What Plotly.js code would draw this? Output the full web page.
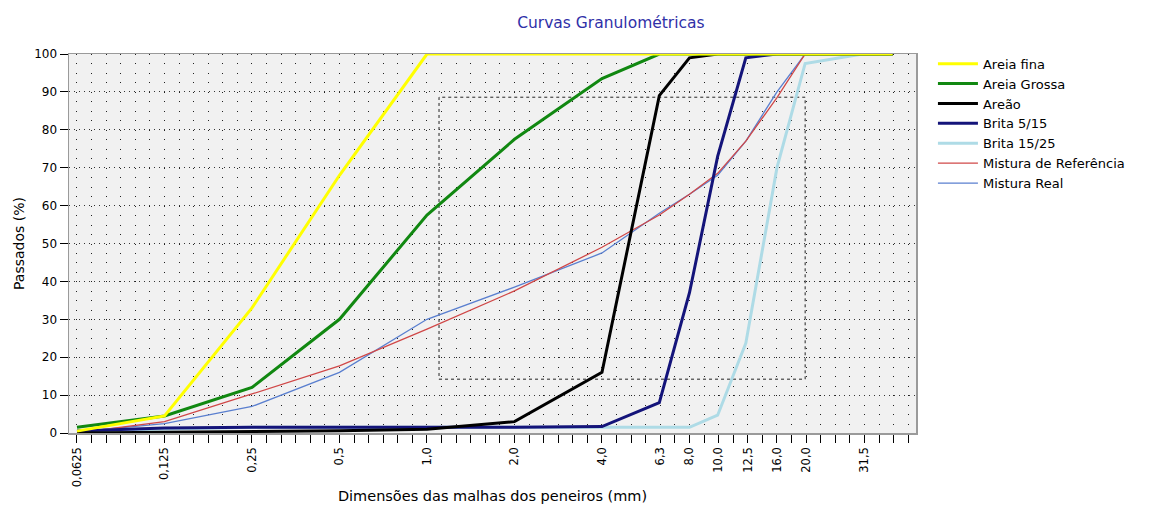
<!DOCTYPE html>
<html>
<head>
<meta charset="utf-8">
<script src="https://cdn.plot.ly/plotly-3.0.1.min.js"></script>
<style>
html,body{margin:0;padding:0;background:#ffffff;}
#chart{width:1157px;height:509px;}
</style>
</head>
<body>
<div id="chart"></div>
<script>
// Sieve sizes (mm) and their axis labels
const sieveSizes  = [0.0625, 0.125, 0.25, 0.5, 1.0, 2.0, 4.0, 6.3, 8.0, 10.0, 12.5, 16.0, 20.0, 31.5, 40.0];
const sieveLabels = ["0,0625","0,125","0,25","0,5","1,0","2,0","4,0","6,3","8,0","10,0","12,5","16,0","20,0","31,5",""];

// Percentage passing for each material
const areiaFina    = [0.5, 4.5, 33, 68, 100, 100, 100, 100, 100, 100, 100, 100, 100, 100, 100];
const areiaGrossa  = [1.5, 4.5, 12, 30, 57.5, 77.5, 93.5, 100, 100, 100, 100, 100, 100, 100, 100];
const areao        = [0, 0.2, 0.4, 0.6, 1, 3, 16, 89, 99, 100, 100, 100, 100, 100, 100];
const brita515     = [0.5, 1.3, 1.5, 1.5, 1.5, 1.5, 1.7, 8, 37, 73, 99, 100, 100, 100, 100];
const brita1525    = [0.5, 1, 1.5, 1.5, 1.5, 1.5, 1.5, 1.5, 1.5, 4.7, 23.7, 70, 97.5, 100, 100];
const misturaRef   = [0, 3, 10.3, 17.7, 27.4, 37.5, 49, 57.5, 63, 68.5, 77, 88.5, 100, 100, 100];
const misturaReal  = [0.3, 2.5, 7, 16, 30, 38.5, 47.5, 58, 63, 68, 77, 90, 100, 100, 100];

const seriesNames  = ["Areia fina","Areia Grossa","Areão","Brita 5/15","Brita 15/25","Mistura de Referência","Mistura Real"];
const seriesColors = ["#ffff00","#118811","#000000","#14147a","#aedbe6","#d04848","#5a7fcf"];
const seriesWidths = [3, 3, 3, 3, 3, 1.3, 1.3];
const seriesValues = [areiaFina, areiaGrossa, areao, brita515, brita1525, misturaRef, misturaReal];

// Dashed envelope box (x in mm, y in %)
const envelopeX = [1.1, 20.0];
const envelopeY = [14.2, 88.6];

const yTicks = [0,10,20,30,40,50,60,70,80,90,100];

// Uniform minor grid on the log axis: one tick every 1/6 of a doubling
const gridTicks = [];
for (let k = 0; k <= 57; k++) gridTicks.push(sieveSizes[0] * Math.pow(2, k / 6));
const gridText = gridTicks.map(g => {
  for (let i = 0; i < sieveSizes.length; i++) {
    if (sieveLabels[i] && Math.abs(Math.log2(g / sieveSizes[i])) < 0.04) return sieveLabels[i];
  }
  return "";
});

const FONT = "DejaVu Sans, Verdana, sans-serif";

// Draw in reverse so the first series ends up on top (as in the reference)
const traces = [];
for (let i = seriesNames.length - 1; i >= 0; i--) {
  traces.push({
    type: "scatter",
    mode: "lines",
    name: seriesNames[i],
    x: sieveSizes,
    y: seriesValues[i],
    line: {color: seriesColors[i], width: seriesWidths[i]},
    hoverinfo: "x+y+name"
  });
}

const layout = {
  width: 1157,
  height: 509,
  paper_bgcolor: "#ffffff",
  plot_bgcolor: "#f1f1f1",
  margin: {l: 69, r: 241, t: 54, b: 76, pad: 0},
  title: {
    text: "Curvas Granulométricas",
    font: {family: FONT, size: 15.5, color: "#3030a8"},
    x: 0.528, xref: "container", xanchor: "center",
    y: 0.955, yref: "container", yanchor: "middle"
  },
  xaxis: {
    type: "log",
    range: [-1.2316, 1.6824],
    tickmode: "array",
    tickvals: gridTicks,
    ticktext: gridText,
    tickangle: -90,
    ticks: "outside",
    ticklen: 8,
    tickcolor: "#000000",
    tickwidth: 1,
    tickfont: {family: FONT, size: 11.5, color: "#000000"},
    showgrid: true,
    gridcolor: "#222222",
    gridwidth: 1,
    griddash: "1px,8.475px",
    showline: true,
    linecolor: "#9a9a9a",
    linewidth: 1.5,
    mirror: true,
    zeroline: false,
    automargin: false,
    title: {
      text: "Dimensões das malhas dos peneiros (mm)",
      font: {family: FONT, size: 14.5, color: "#000000"},
      standoff: 4
    }
  },
  yaxis: {
    range: [0, 100],
    tickmode: "array",
    tickvals: yTicks,
    ticks: "outside",
    ticklen: 8,
    tickcolor: "#000000",
    tickfont: {family: FONT, size: 12, color: "#000000"},
    showgrid: true,
    gridcolor: "#333333",
    gridwidth: 1,
    griddash: "1px,4px",
    showline: true,
    linecolor: "#9a9a9a",
    linewidth: 1.5,
    mirror: true,
    zeroline: false,
    automargin: false,
    title: {
      text: "Passados (%)",
      font: {family: FONT, size: 14, color: "#000000"},
      standoff: 6
    }
  },
  legend: {
    x: 1.02, y: 1.014, xanchor: "left", yanchor: "top",
    traceorder: "reversed",
    font: {family: FONT, size: 13, color: "#000000"},
    bgcolor: "rgba(0,0,0,0)",
    itemwidth: 40,
    tracegroupgap: 0
  },
  shapes: [{
    type: "rect",
    xref: "x", yref: "y",
    x0: envelopeX[0], x1: envelopeX[1],
    y0: envelopeY[0], y1: envelopeY[1],
    line: {color: "#222222", width: 1, dash: "3px,3px"},
    fillcolor: "rgba(0,0,0,0)",
    layer: "below"
  }],
  showlegend: true
};

Plotly.newPlot("chart", traces, layout, {displayModeBar: false, staticPlot: true});
</script>
</body>
</html>
